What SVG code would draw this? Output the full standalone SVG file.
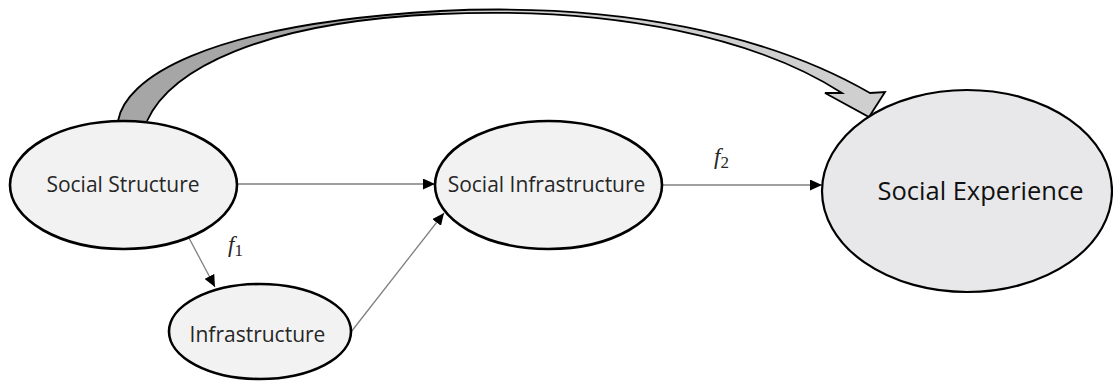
<svg xmlns="http://www.w3.org/2000/svg" width="1113" height="381" viewBox="0 0 1113 381">
<style>
.node{fill:#f2f2f2;stroke:#000;stroke-width:2.6}
.big{fill:#e8e8ea;stroke:#000;stroke-width:2.2}
.lbl{font-family:"Open Sans","Liberation Sans",sans-serif;fill:#262626;text-anchor:middle}
.conn{stroke:#7f7f7f;stroke-width:1.3;fill:none;marker-end:url(#ah)}
.fl{font-family:"Liberation Serif","DejaVu Serif",serif;font-style:italic;fill:#262626}
.sub{font-style:normal}
.outline{fill:none;stroke:#000;stroke-width:1.8;stroke-linejoin:miter}
</style>
<defs>
<marker id="ah" markerUnits="userSpaceOnUse" markerWidth="13" markerHeight="11" refX="12" refY="5.5" orient="auto">
<path d="M0,0 L12,5.5 L0,11 Z" fill="#000"/>
</marker>
</defs>
<rect width="1113" height="381" fill="#fff"/>
<g id="connectors">
<g id="curved-arrow">
<path fill="#a6a6a6" d="M118,121 C125,80 200,25 440,11 L440,14 C260,22 170,70 147,121 Z"/>
<path fill="#d0cfcf" d="M440,11 C620,2 770,35 870,93 L885,92 L869,117 L825,93 L842,93 C760,40 620,6 440,14 Z"/>
<path class="outline" d="M118,121 C125,80 200,25 440,11 C620,2 770,35 870,93 L885,92 L869,117 L825,93 L842,93 C760,40 620,6 440,14 C260,22 170,70 147,121"/>
</g>
<line class="conn" x1="237" y1="184" x2="435" y2="184"/>
<line class="conn" x1="662" y1="185" x2="822" y2="185"/>
<line class="conn" x1="351" y1="332" x2="444" y2="213"/>
<line class="conn" x1="189" y1="238" x2="215" y2="287"/>
<text class="fl" x="228" y="252" font-size="23">f<tspan class="sub" font-size="17" dy="4">1</tspan></text>
<text class="fl" x="714" y="164" font-size="23">f<tspan class="sub" font-size="17" dy="4">2</tspan></text>
</g>
<g id="social-structure">
<ellipse class="node" cx="123.5" cy="185" rx="113.5" ry="64"/>
<text class="lbl" x="123" y="192" font-size="21">Social Structure</text>
</g>
<g id="social-infrastructure">
<ellipse class="node" cx="548.5" cy="185" rx="113.5" ry="64"/>
<text class="lbl" x="546.5" y="192" font-size="21">Social Infrastructure</text>
</g>
<g id="infrastructure">
<ellipse class="node" cx="260" cy="331.5" rx="91" ry="47.5"/>
<text class="lbl" x="257.5" y="342" font-size="21">Infrastructure</text>
</g>
<g id="social-experience">
<ellipse class="big" cx="967" cy="191" rx="145" ry="101"/>
<text class="lbl" x="980.5" y="200" font-size="25.5" style="fill:#111">Social Experience</text>
</g>
</svg>
